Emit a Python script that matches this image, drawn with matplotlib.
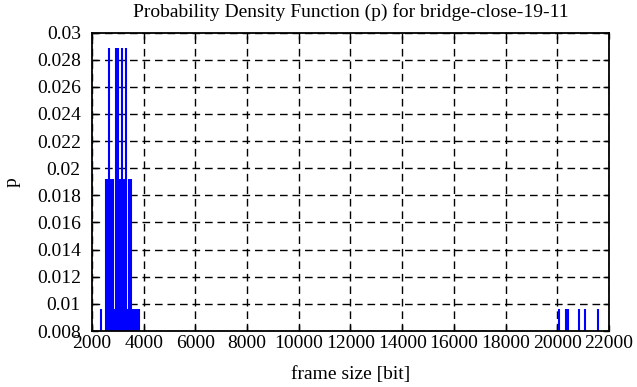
import matplotlib
matplotlib.use("Agg")
import matplotlib.pyplot as plt

# frame sizes [bit] and their probabilities (1, 2 or 3 out of 104 frames)
sizes_3 = [2650, 2910, 3020, 3160, 3330]
sizes_2 = [2540, 2580, 2720, 2770, 2830, 3090, 3240, 3290, 3420, 3460, 3510]
sizes_1 = [2350, 2600, 2680, 2860, 2980, 3070, 3130, 3360, 3560, 3600, 3640,
           3680, 3720, 3760, 3830,
           20050, 20320, 20430, 20840, 21070, 21570]
p_unit = 1.0 / 104

xticks = list(range(2000, 22001, 2000))
yticks = [0.008, 0.01, 0.012, 0.014, 0.016, 0.018, 0.02, 0.022, 0.024, 0.026, 0.028, 0.03]
ytick_labels = ["0.008", "0.01", "0.012", "0.014", "0.016", "0.018", "0.02",
                "0.022", "0.024", "0.026", "0.028", "0.03"]

plt.rcParams['font.family'] = ['Liberation Serif', 'DejaVu Serif']
plt.rcParams['font.size'] = 14

fig = plt.figure(figsize=(6.37, 3.87), dpi=100)
ax = fig.add_axes([0.1444, 0.1447, 0.8116, 0.7713])

for sizes, k in [(sizes_1, 1), (sizes_2, 2), (sizes_3, 3)]:
    ax.vlines(sizes, 0, k * p_unit, colors='#0000ff', linewidth=1.5, zorder=3)

ax.set_xlim(2000, 22000)
ax.set_ylim(0.008, 0.03)
ax.set_xticks(xticks)
ax.set_xticklabels([str(x) for x in xticks])
ax.set_yticks(yticks)
ax.set_yticklabels(ytick_labels)

ax.grid(True, color='black', linestyle=(0, (5.5, 3.5)), linewidth=1.0, zorder=1)
ax.tick_params(direction='in', length=4.5, width=1, top=True, right=True)
ax.tick_params(axis='x', pad=3)
ax.tick_params(axis='y', pad=8)
for s in ax.spines.values():
    s.set_linewidth(1.3)
    s.set_zorder(4)

ax.set_xlabel("frame size [bit]", labelpad=10)
ax.set_ylabel("p", labelpad=12)
ax.set_title("Probability Density Function (p) for bridge-close-19-11", fontsize=14, pad=11)

fig.savefig("out.png", dpi=100)
